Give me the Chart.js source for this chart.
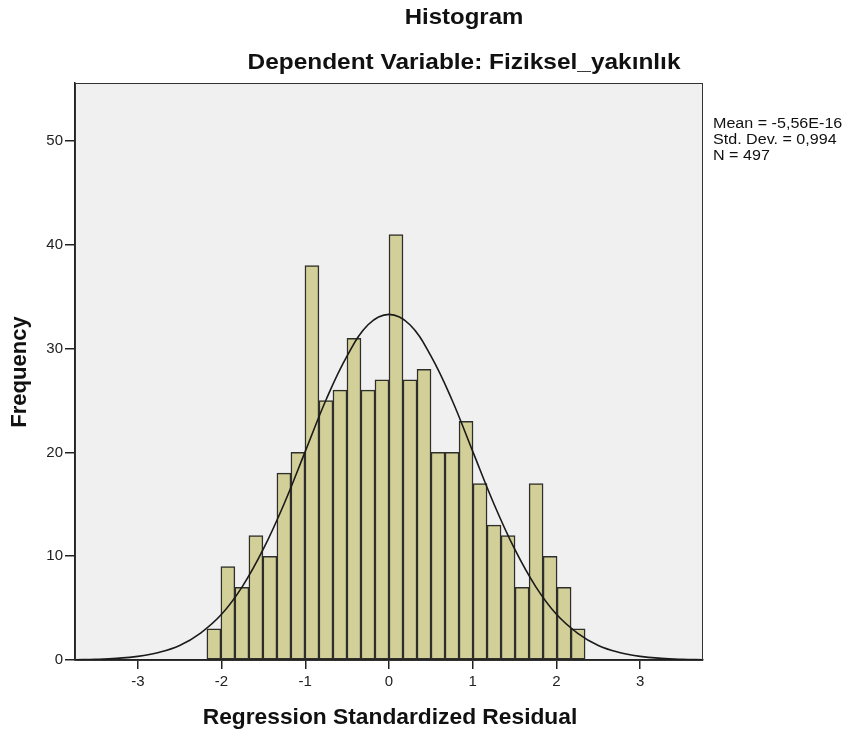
<!DOCTYPE html>
<html>
<head>
<meta charset="utf-8">
<script src="https://cdn.jsdelivr.net/npm/chart.js@4.4.0/dist/chart.umd.min.js"></script>
<style>
  html, body { margin: 0; padding: 0; background: #fff; }
</style>
</head>
<body>
<canvas id="histograma" width="845" height="734"></canvas>
<script>
// Histograma de residuos estandarizados (SPSS)

// Frecuencias de cada barra (27 barras, N = 497)
const frecuencias = [3, 9, 7, 12, 10, 18, 20, 38, 25, 26, 31, 26, 27, 41,
                     27, 28, 20, 20, 23, 17, 13, 12, 7, 17, 10, 7, 3];
// Primer borde y ancho de las barras (en unidades del eje x)
const inicioBarras = -2.175;
const anchoBarra = 0.1673;

// Curva normal
const curvaX = [-3.75, -3.5, -3.25, -3, -2.75, -2.5, -2.25, -2, -1.75, -1.5, -1.25, -1, -0.75, -0.5, -0.25,
                0, 0.25, 0.5, 0.75, 1, 1.25, 1.5, 1.75, 2, 2.25, 2.5, 2.75, 3, 3.25, 3.5, 3.75];
const curvaY = [0.03, 0.07, 0.16, 0.35, 0.73, 1.4, 2.6, 4.4, 7.1, 10.7, 15.1, 20.1, 25.1, 29.3, 32.3,
                33.3, 32.3, 29.3, 25.1, 20.1, 15.1, 10.7, 7.1, 4.4, 2.6, 1.4, 0.73, 0.35, 0.16, 0.07, 0.03];

// Marcas de los ejes
const ticksX = [-3, -2, -1, 0, 1, 2, 3];
const ticksY = [0, 10, 20, 30, 40, 50];

// Textos
const titulo = "Histogram";
const subtitulo = "Dependent Variable: Fiziksel_yakınlık";
const tituloX = "Regression Standardized Residual";
const tituloY = "Frequency";
const estadisticas = ["Mean = -5,56E-16", "Std. Dev. = 0,994", "N = 497"];

const FUENTE = 'Arial, "Liberation Sans", sans-serif';

// Centros de las barras
const datosBarras = frecuencias.map((f, i) => ({ x: inicioBarras + (i + 0.5) * anchoBarra, y: f }));
const datosCurva = curvaX.map((x, i) => ({ x: x, y: curvaY[i] }));

// Texto estirado en horizontal (la fuente de SPSS es más ancha)
function textoAncho(ctx, texto, x, y, escala) {
  ctx.save();
  ctx.translate(x, y);
  ctx.scale(escala, 1);
  ctx.fillText(texto, 0, 0);
  ctx.restore();
}

// Plugin: fondo, marco y textos
const decoracion = {
  id: "decoracion",
  beforeDraw(chart) {
    const { ctx, chartArea: a } = chart;
    ctx.save();
    ctx.fillStyle = "#fff";
    ctx.fillRect(0, 0, chart.width, chart.height);
    ctx.fillStyle = "#f0f0f0";
    ctx.fillRect(a.left, a.top, a.right - a.left, a.bottom - a.top);
    ctx.restore();
  },
  afterDraw(chart) {
    const { ctx, chartArea: a } = chart;
    ctx.save();
    ctx.strokeStyle = "#333";
    ctx.lineWidth = 1;
    ctx.strokeRect(a.left + 0.5, a.top + 0.5, a.right - a.left - 1, a.bottom - a.top);

    ctx.fillStyle = "#111";
    ctx.textAlign = "center";
    ctx.textBaseline = "middle";
    ctx.font = "bold 22px " + FUENTE;
    textoAncho(ctx, titulo, 464, 18, 1.09);
    textoAncho(ctx, subtitulo, 464, 63, 1.11);
    textoAncho(ctx, tituloX, 390, 718, 1.035);

    ctx.save();
    ctx.translate(20, 372);
    ctx.rotate(-Math.PI / 2);
    ctx.fillText(tituloY, 0, 0);
    ctx.restore();

    ctx.textAlign = "left";
    ctx.font = "14px " + FUENTE;
    estadisticas.forEach((t, i) => textoAncho(ctx, t, 713, 124 + i * 16, 1.15));
    ctx.restore();
  }
};

new Chart(document.getElementById("histograma"), {
  type: "bar",
  data: {
    datasets: [
      {
        type: "line",
        data: datosCurva,
        borderColor: "#1a1a1a",
        borderWidth: 1.6,
        pointRadius: 0,
        tension: 0.4,
        fill: false,
        order: 0
      },
      {
        type: "bar",
        data: datosBarras,
        backgroundColor: "#d3cf98",
        borderColor: "#2e2e2a",
        borderWidth: 1.5,
        borderSkipped: false,
        barPercentage: 1,
        categoryPercentage: 1,
        order: 1
      }
    ]
  },
  options: {
    responsive: false,
    animation: false,
    layout: { padding: { top: 83, right: 142, left: 0, bottom: 0 } },
    plugins: {
      legend: { display: false },
      tooltip: { enabled: false },
      title: { display: false }
    },
    scales: {
      x: {
        type: "linear",
        min: -3.75,
        max: 3.75,
        offset: false,
        afterBuildTicks: s => { s.ticks = ticksX.map(v => ({ value: v })); },
        afterFit: s => { s.height = 74; },
        grid: { offset: false, drawOnChartArea: false, drawTicks: true, tickLength: 9, color: "#222", lineWidth: 1.5 },
        border: { display: true, color: "#222", width: 1.5 },
        ticks: { color: "#222", font: { family: FUENTE, size: 15 }, padding: 4, maxRotation: 0 }
      },
      y: {
        type: "linear",
        min: 0,
        max: 55.6,
        afterBuildTicks: s => { s.ticks = ticksY.map(v => ({ value: v })); },
        afterFit: s => { s.width = 75; },
        grid: { drawOnChartArea: false, drawTicks: true, tickLength: 10, color: "#222", lineWidth: 1.5 },
        border: { display: true, color: "#222", width: 1.5 },
        ticks: { color: "#222", font: { family: FUENTE, size: 15 }, padding: 2 }
      }
    }
  },
  plugins: [decoracion]
});
</script>
</body>
</html>
